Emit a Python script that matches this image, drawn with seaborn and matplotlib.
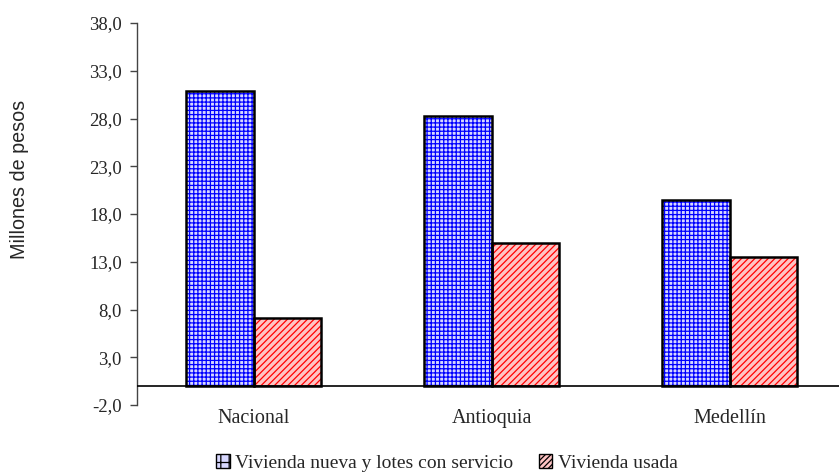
import matplotlib
matplotlib.use("Agg")
import matplotlib.pyplot as plt
import seaborn as sns
import pandas as pd
from matplotlib.patches import Rectangle, Patch

categorias = ["Nacional", "Antioquia", "Medellín"]
serie_nueva = [30.9, 28.3, 19.5]
serie_usada = [7.1, 15.0, 13.5]
nombres = ["Vivienda nueva y lotes con servicio", "Vivienda usada"]
yticks = [-2.0, 3.0, 8.0, 13.0, 18.0, 23.0, 28.0, 33.0, 38.0]

df = pd.DataFrame({
    "region": categorias * 2,
    "valor": serie_nueva + serie_usada,
    "serie": [nombres[0]] * 3 + [nombres[1]] * 3,
})

sns.set_style("white")
plt.rcParams["hatch.linewidth"] = 0.9

fig = plt.figure(figsize=(8.39, 4.72), dpi=100)
ax = fig.add_axes([137/839, 1 - 405/472, 1 - 137/839, (405 - 23)/472])

hatch_cols = ["#0000ff", "#ff0000"]
face_cols = ["#d8d8ff", "#ffc4c4"]
hatches = ["++++", "/////"]

sns.barplot(data=df, x="region", y="valor", hue="serie", order=categorias,
            hue_order=nombres, palette=face_cols, width=0.567, gap=0,
            ax=ax, legend=False, saturation=1)

for i, cont in enumerate(ax.containers):
    for p in cont:
        p.set_facecolor(face_cols[i])
        p.set_hatch(hatches[i])
        p.set_edgecolor(hatch_cols[i])
        p.set_linewidth(0)
        outline = Rectangle(p.get_xy(), p.get_width(), p.get_height(),
                            fill=False, edgecolor="black", linewidth=1.8, zorder=3)
        ax.add_patch(outline)

ax.axhline(0, color="black", linewidth=1.2, zorder=4)
ax.set_ylim(-2, 38)
ax.set_xlim(-0.49, 2.46)
ax.set_yticks(yticks)
ax.set_yticklabels([f"{v:.1f}".replace(".", ",") for v in yticks],
                   fontfamily="Liberation Serif", fontsize=13.5)
ax.set_xticks(range(len(categorias)))
ax.set_xticklabels(categorias, fontfamily="Liberation Serif", fontsize=14.5)
ax.tick_params(axis="y", direction="out", length=5, width=1, color="#444444", left=True, pad=6)
ax.tick_params(axis="x", length=0, pad=3)
for s in ["top", "right", "bottom"]:
    ax.spines[s].set_visible(False)
ax.spines["left"].set_color("#444444")
ax.spines["left"].set_linewidth(1)
ax.set_xlabel("")
ax.set_ylabel("")
fig.text(20/839, 1 - 179/472, "Millones de pesos", rotation=90, ha="center", va="center",
         fontfamily="Liberation Sans", fontsize=14.2)

handles = [Patch(facecolor=face_cols[i], hatch="++" if i == 0 else "//////",
                 edgecolor=hatch_cols[i], linewidth=0) for i in range(2)]
leg = fig.legend(handles, nombres, loc="center", bbox_to_anchor=(447/839, 1 - 463/472),
                 ncol=2, frameon=False, prop={"family": "Liberation Serif", "size": 14},
                 handlelength=0.7, handleheight=0.7, handletextpad=0.3, columnspacing=1.3)
for h in leg.legend_handles:
    h.set_edgecolor("black")
    h.set_linewidth(1)

fig.savefig("out.png", dpi=100)
